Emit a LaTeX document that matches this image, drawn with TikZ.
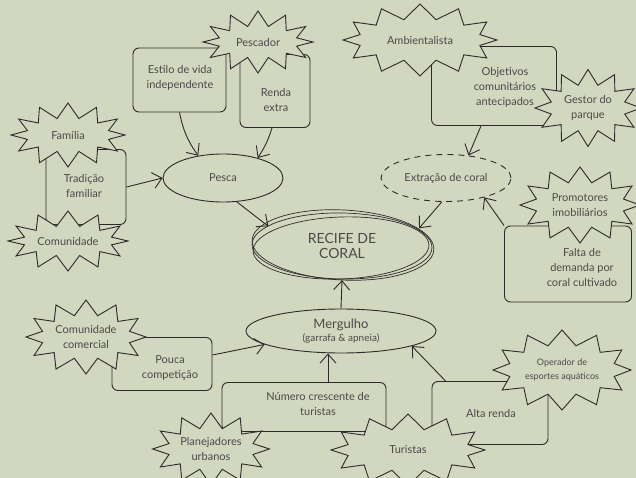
\documentclass[tikz,border=0pt]{standalone}
\usepackage{fontspec}
\setmainfont{Lato}
\usetikzlibrary{shapes.symbols,shapes.geometric,arrows.meta}
\definecolor{bg}{HTML}{D2D8BF}
\definecolor{ink}{HTML}{2B2B2B}
\definecolor{txt}{HTML}{4A4A48}
\begin{document}
\begin{tikzpicture}[x=1pt,y=-1pt,
  every node/.style={text=txt, font=\fontsize{11}{15}\selectfont, align=center},
  ln/.style={draw=ink, line width=0.9pt},
  box/.style={ln, rounded corners=6pt, inner sep=0pt},
  burst/.style={ln, fill=bg, shape=starburst, random starburst=0, starburst points=12, starburst point height=15pt, inner sep=0pt},
  oval/.style={ln, shape=ellipse, inner sep=0pt},
  arr/.style={draw=ink, line width=0.9pt, -{Straight Barb[length=9pt,width=16pt,line width=0.9pt]}}]
\fill[bg] (0,0) rectangle (636,478);
\useasboundingbox (0,0) rectangle (636,478);

% boxes
\node[box, minimum width=93pt, minimum height=64pt] (estilo) at (179.5,80) {};
\node (estiloT) at (180,78) {Estilo de vida\\independente};
\node[box, minimum width=70pt, minimum height=73pt] (renda) at (275,91) {};
\node (rendaT) at (276,100) {Renda\\extra};
\node[box, minimum width=80pt, minimum height=75pt] (tradicao) at (86,187) {};
\node (tradicaoT) at (84,186) {Tradição\\familiar};
\node[box, minimum width=125pt, minimum height=79pt] (objetivos) at (494,86) {};
\node (objetivosT) at (505,87) {Objetivos\\comunitários\\antecipados};
\node[box, minimum width=127pt, minimum height=76pt] (falta) at (568,264) {};
\node (faltaT) at (582,267) {Falta de\\demanda por\\coral cultivado};
\node[box, minimum width=100pt, minimum height=53pt] (pouca) at (162,364) {};
\node (poucaT) at (170,368) {Pouca\\competição};
\node[box, minimum width=164pt, minimum height=49pt] (numero) at (304,407) {};
\node (numeroT) at (318,404) {Número crescente de\\turistas};
\node[box, minimum width=116pt, minimum height=63pt] (alta) at (490,413) {};
\node (altaT) at (491,413) {Alta renda};

% starbursts
\node[burst, minimum width=110pt, minimum height=62pt] (pescador) at (258,42) {Pescador};
\node[burst, minimum width=114pt, minimum height=64pt] (familia) at (68,135) {Família};
\node[burst, minimum width=120pt, minimum height=60pt] (comunidade) at (68,241) {Comunidade};
\node[burst, minimum width=154pt, minimum height=72pt] (ambient) at (420,40) {Ambientalista};
\node[burst, minimum width=106pt, minimum height=77pt] (gestor) at (588,108) {Gestor do\\parque};
\node[burst, minimum width=120pt, minimum height=76pt] (promotores) at (580,205) {Promotores\\imobiliários};
\node[burst, minimum width=120pt, minimum height=74pt] (comercial) at (86,337) {Comunidade\\comercial};
\node[burst, minimum width=138pt, minimum height=80pt, font=\fontsize{9}{14}\selectfont] (operador) at (562,370) {Operador de\\esportes aquáticos};
\node[burst, minimum width=114pt, minimum height=72pt] (planejadores) at (211,449) {Planejadores\\urbanos};
\node[burst, minimum width=154pt, minimum height=72pt] (turistas) at (408,450) {Turistas};

% ellipses
\node[oval, minimum width=120pt, minimum height=48pt] (pesca) at (223,178) {Pesca};
\node[oval, dashed, dash pattern=on 6pt off 5pt, minimum width=130pt, minimum height=47pt] (extracao) at (446,178) {Extração de coral};
\node[shape=ellipse, minimum width=180pt, minimum height=68pt, inner sep=0pt, font=\fontsize{14}{15}\selectfont] (recife) at (342,246) {RECIFE DE\\CORAL};
\draw[draw=ink, line width=0.7pt] (recife.center) ellipse [x radius=90, y radius=33, rotate=-1];
\draw[draw=ink, line width=0.7pt] ([xshift=-1pt,yshift=-2pt]recife.center) ellipse [x radius=88, y radius=31, rotate=2];
\draw[draw=ink, line width=0.7pt] ([xshift=1pt,yshift=1pt]recife.center) ellipse [x radius=91, y radius=35, rotate=-3];
\node[oval, minimum width=190pt, minimum height=44pt] (mergulho) at (341,331) {\fontsize{13}{13}\selectfont Mergulho\\[-2pt]\fontsize{10}{11}\selectfont(garrafa \& apneia)};

% arrows
\draw[arr] (estilo.south) to[bend right=12] (pesca.138);
\draw[arr] ([xshift=-3pt]renda.south) to[bend left=8] (pesca.30);
\draw[arr] (tradicao.east) -- (pesca.west);
\draw[arr] (pesca.-60) -- (recife.165);
\draw[arr] ([xshift=-13pt]objetivos.south) -- (extracao.45);
\draw[arr] (extracao.-100) -- (recife.13);
\draw[arr] (falta.north west) -- (extracao.-27);
\draw[arr] (mergulho.north) -- (recife.south);
\draw[arr] ([yshift=9pt]pouca.east) -- (mergulho.190);
\draw[arr] ([xshift=24pt]numero.north) -- ([xshift=24pt]numero.north |- mergulho.south);
\draw[arr] ([xshift=14pt]alta.north west) -- (mergulho.-12);
\end{tikzpicture}
\end{document}
